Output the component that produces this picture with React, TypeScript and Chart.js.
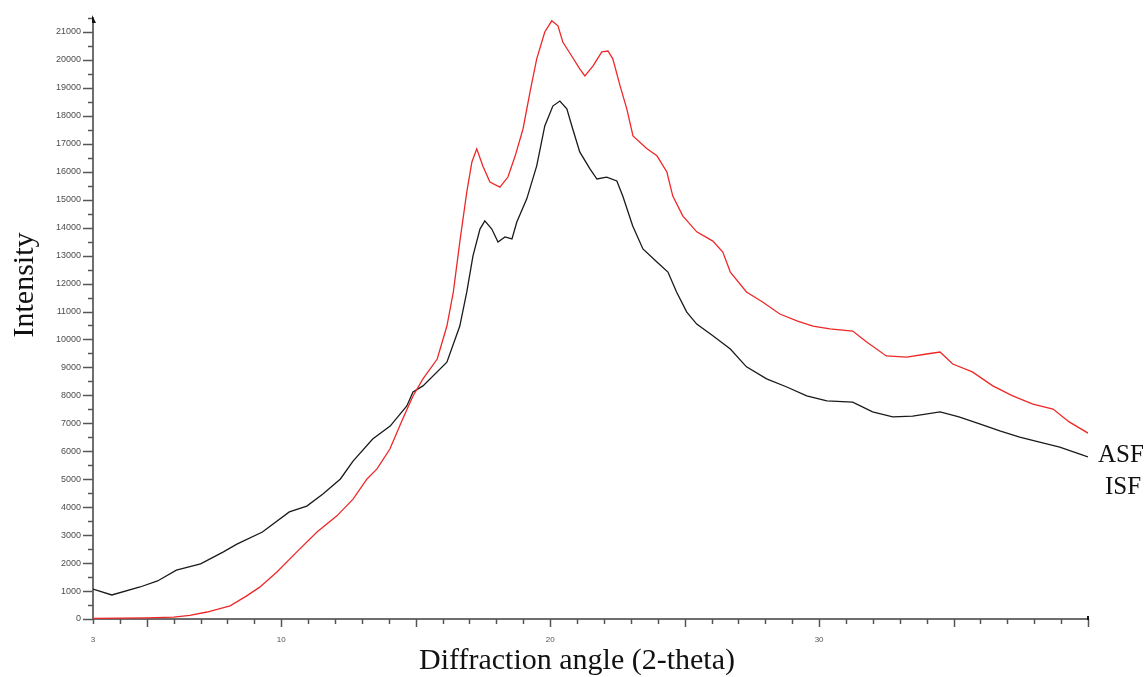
import React, { useEffect, useRef } from "react";
import { Chart, registerables } from "chart.js";

Chart.register(...registerables);

// ISF (black) curve
const ISF_X = [3.0, 3.7, 4.75, 5.4, 6.1, 7.0, 7.85, 8.35, 9.3, 10.3, 10.95, 11.55, 12.2, 12.67, 13.4, 14.05, 14.67, 14.9, 15.27, 16.16, 16.64, 16.9, 17.13, 17.39, 17.57, 17.83, 18.06, 18.32, 18.58, 18.76, 19.13, 19.5, 19.8, 20.1, 20.36, 20.62, 20.84, 21.1, 21.48, 21.74, 22.1, 22.48, 22.7, 23.07, 23.45, 23.97, 24.38, 24.7, 25.08, 25.45, 26.05, 26.7, 27.3, 28.05, 28.8, 29.54, 30.29, 31.25, 31.99, 32.74, 33.48, 34.5, 35.2, 35.97, 36.72, 37.46, 38.2, 38.95, 39.7, 40];
const ISF_Y = [1070, 860, 1145, 1360, 1750, 1970, 2400, 2680, 3110, 3830, 4040, 4470, 5010, 5650, 6440, 6900, 7620, 8120, 8340, 9190, 10480, 11700, 12990, 13950, 14240, 13950, 13490, 13670, 13600, 14200, 15030, 16210, 17640, 18350, 18530, 18250, 17530, 16710, 16100, 15740, 15810, 15670, 15130, 14060, 13240, 12770, 12410, 11700, 10980, 10550, 10130, 9660, 9020, 8590, 8300, 7980, 7800, 7760, 7410, 7230, 7260, 7410, 7230, 6980, 6730, 6510, 6330, 6150, 5900, 5800];

// ASF (red) curve
const ASF_X = [3, 4, 5, 6, 6.6, 7.24, 8.1, 8.7, 9.2, 9.84, 10.58, 11.33, 12.07, 12.67, 13.19, 13.56, 14.04, 14.52, 14.9, 15.27, 15.8, 16.16, 16.4, 16.64, 16.9, 17.09, 17.27, 17.5, 17.76, 18.13, 18.43, 18.7, 18.99, 19.25, 19.5, 19.8, 20.06, 20.29, 20.47, 20.8, 21.1, 21.29, 21.59, 21.92, 22.15, 22.33, 22.6, 22.85, 23.08, 23.6, 23.97, 24.34, 24.56, 24.93, 25.45, 26.05, 26.42, 26.7, 27.3, 27.9, 28.54, 29.2, 29.77, 30.4, 31.25, 31.77, 32.5, 33.26, 34, 34.5, 34.97, 35.7, 36.46, 37.2, 37.95, 38.7, 39.3, 40];
const ASF_Y = [20, 30, 40, 70, 130, 250, 470, 820, 1140, 1680, 2400, 3110, 3690, 4290, 5010, 5370, 6080, 7160, 7980, 8590, 9300, 10480, 11700, 13490, 15280, 16350, 16820, 16200, 15630, 15450, 15810, 16570, 17530, 18850, 20040, 21000, 21400, 21220, 20640, 20140, 19680, 19430, 19780, 20290, 20320, 20040, 19070, 18250, 17280, 16820, 16570, 15990, 15130, 14420, 13850, 13520, 13130, 12410, 11700, 11340, 10910, 10660, 10480, 10380, 10300, 9910, 9410, 9370, 9480, 9550, 9120, 8840, 8340, 7980, 7690, 7510, 7050, 6650];

const X_MIN = 3;
const X_MAX = 40;
const X_LABELS = [3, 10, 20, 30];
const Y_MIN = 0;
const Y_MAX = 21500;

const X_TITLE = "Diffraction angle (2-theta)";
const Y_TITLE = "Intensity";
const SERIES_NAMES = ["ASF", "ISF"];

const decor = {
  id: "decor",
  afterDraw(chart: any) {
    const { ctx, chartArea, scales } = chart;
    const xs = scales.x;
    const ys = scales.y;
    ctx.save();
    ctx.strokeStyle = "#555";
    ctx.lineWidth = 1.5;
    // y ticks
    for (const t of ys.ticks) {
      const py = Math.round(ys.getPixelForValue(t.value)) + 0.5;
      const len = t.value % 1000 === 0 ? 10 : 5;
      ctx.beginPath();
      ctx.moveTo(chartArea.left - len, py);
      ctx.lineTo(chartArea.left, py);
      ctx.stroke();
    }
    // x ticks
    for (const t of xs.ticks) {
      const px = Math.round(xs.getPixelForValue(t.value)) + 0.5;
      const len = t.value % 5 === 0 ? 8 : 5;
      ctx.beginPath();
      ctx.moveTo(px, chartArea.bottom);
      ctx.lineTo(px, chartArea.bottom + len);
      ctx.stroke();
    }
    // arrow marks
    ctx.fillStyle = "#111";
    ctx.beginPath();
    ctx.moveTo(chartArea.left - 1, chartArea.top - 3);
    ctx.lineTo(chartArea.left + 3, chartArea.top + 5);
    ctx.lineTo(chartArea.left - 1, chartArea.top + 5);
    ctx.closePath();
    ctx.fill();
    ctx.fillRect(chartArea.right - 1, chartArea.bottom - 3, 2, 4);

    // titles
    ctx.fillStyle = "#111";
    ctx.font = '30px "Liberation Serif", "Times New Roman", serif';
    ctx.textAlign = "center";
    ctx.textBaseline = "middle";
    ctx.fillText(X_TITLE, 577, 661);
    ctx.save();
    ctx.translate(25, 285);
    ctx.rotate(-Math.PI / 2);
    ctx.fillText(Y_TITLE, 0, 0);
    ctx.restore();

    // series labels
    ctx.font = '25px "Liberation Serif", "Times New Roman", serif';
    ctx.textAlign = "left";
    ctx.fillText(SERIES_NAMES[0], chartArea.right + 10, 455);
    ctx.fillText(SERIES_NAMES[1], chartArea.right + 17, 487);
    ctx.restore();
  },
};

export default function App() {
  const ref = useRef<HTMLCanvasElement>(null);
  useEffect(() => {
    if (!ref.current) return;
    const chart = new Chart(ref.current, {
      type: "line",
      data: {
        datasets: [
          {
            label: SERIES_NAMES[0],
            data: ASF_X.map((x, i) => ({ x, y: ASF_Y[i] })),
            borderColor: "rgb(238,40,40)",
            borderWidth: 1.3,
            pointRadius: 0,
            tension: 0,
          },
          {
            label: SERIES_NAMES[1],
            data: ISF_X.map((x, i) => ({ x, y: ISF_Y[i] })),
            borderColor: "#1a1a1a",
            borderWidth: 1.3,
            pointRadius: 0,
            tension: 0,
          },
        ],
      },
      options: {
        animation: false,
        responsive: false,
        layout: { padding: { top: 18, right: 57, left: 0, bottom: 0 } },
        plugins: { legend: { display: false }, tooltip: { enabled: false } },
        scales: {
          x: {
            type: "linear",
            min: X_MIN,
            max: X_MAX,
            afterFit: (s: any) => {
              s.height = 58;
            },
            ticks: {
              stepSize: 1,
              autoSkip: false,
              maxRotation: 0,
              padding: 8,
              color: "#555",
              font: { size: 8, family: "Liberation Sans, Arial, sans-serif" },
              callback: (v: any) => (X_LABELS.includes(Number(v)) ? String(v) : ""),
            },
            grid: { display: true, drawOnChartArea: false, tickLength: 8, tickColor: "rgba(0,0,0,0)" },
            border: { display: true, color: "#6e6e6e", width: 2 },
          },
          y: {
            min: Y_MIN,
            max: Y_MAX,
            afterFit: (s: any) => {
              s.width = 93;
            },
            ticks: {
              stepSize: 500,
              autoSkip: false,
              padding: 2,
              color: "#4d4d4d",
              font: { size: 9, family: "Liberation Sans, Arial, sans-serif" },
              callback: (v: any) => (Number(v) % 1000 === 0 ? String(v) : ""),
            },
            grid: { display: true, drawOnChartArea: false, tickLength: 10, tickColor: "rgba(0,0,0,0)" },
            border: { display: true, color: "#6e6e6e", width: 2 },
          },
        },
      },
      plugins: [decor],
    });
    return () => chart.destroy();
  }, []);
  return (
    <div style={{ position: "absolute", left: 0, top: 0, width: 1145, height: 677, background: "#fff" }}>
      <canvas ref={ref} width={1145} height={677} style={{ width: 1145, height: 677, display: "block" }} />
    </div>
  );
}
